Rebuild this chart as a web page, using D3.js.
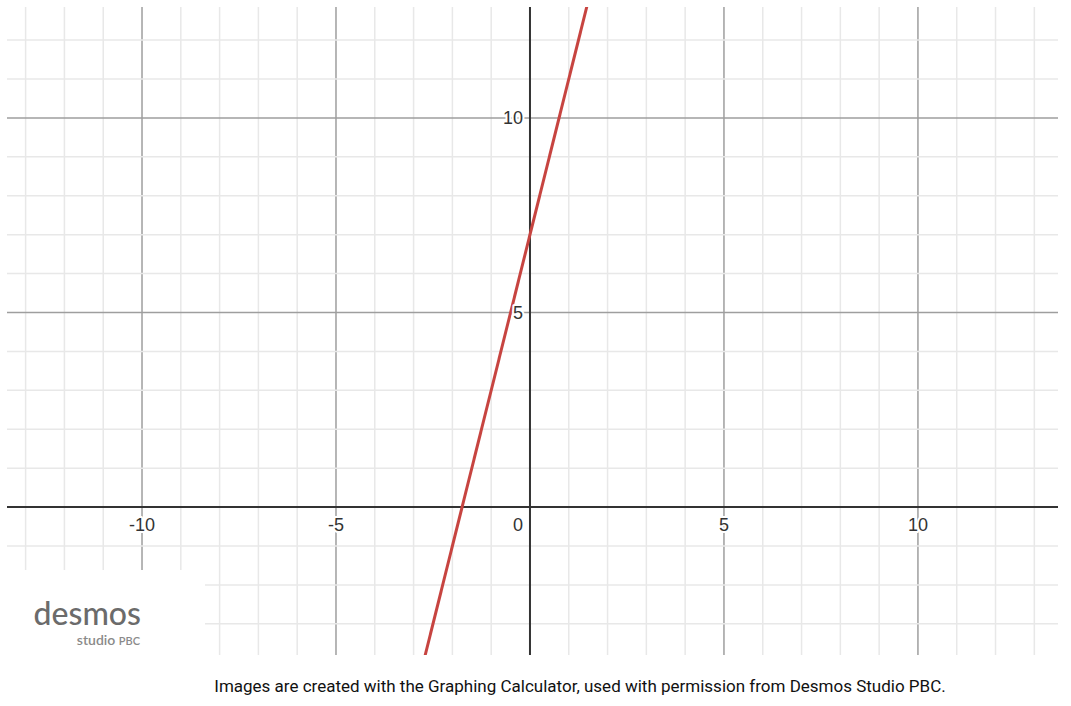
<!DOCTYPE html>
<html>
<head>
<meta charset="utf-8">
<script src="https://cdn.jsdelivr.net/npm/d3@7/dist/d3.min.js"></script>
<style>
  body { margin: 0; background: #fff; }
  svg { display: block; }
</style>
</head>
<body>
<div id="chart"></div>
<script>
// 视野范围（坐标单位）
const xDomain = [-13.48, 13.61];
const yDomain = [-3.8, 12.85];
// 主刻度标签
const xTickLabels = [-10, -5, 0, 5, 10];
const yTickLabels = [5, 10];
// 直线上读到的两点 (y = 4x + 7)，超出部分被裁剪
const linePoints = [[-3, -5], [2, 15]];
const caption = 'Images are created with the Graphing Calculator, used with permission from Desmos Studio PBC.';

const width = 1071, height = 706;
const plot = { left: 7, top: 7, right: 1058, bottom: 655 };

const svg = d3.select('#chart').append('svg')
  .attr('width', width)
  .attr('height', height);

const x = d3.scaleLinear().domain(xDomain).range([plot.left, plot.right]);
const y = d3.scaleLinear().domain(yDomain).range([plot.bottom, plot.top]);

svg.append('defs').append('clipPath')
  .attr('id', 'plot-clip')
  .append('rect')
  .attr('x', plot.left).attr('y', plot.top)
  .attr('width', plot.right - plot.left)
  .attr('height', plot.bottom - plot.top);

const g = svg.append('g').attr('clip-path', 'url(#plot-clip)');

// 网格：每1单位细线，每5单位粗线
const xs = d3.range(Math.ceil(xDomain[0]), Math.floor(xDomain[1]) + 1);
const ys = d3.range(Math.ceil(yDomain[0]), Math.floor(yDomain[1]) + 1);

const minorColor = '#e8e8e8', majorColor = '#9e9e9e';

g.selectAll('.vgrid').data(xs.filter(d => d !== 0)).enter()
  .append('line').attr('class', 'vgrid')
  .attr('x1', d => x(d)).attr('x2', d => x(d))
  .attr('y1', plot.top).attr('y2', plot.bottom)
  .attr('stroke', d => d % 5 === 0 ? majorColor : minorColor)
  .attr('stroke-width', 1.5);

g.selectAll('.hgrid').data(ys.filter(d => d !== 0)).enter()
  .append('line').attr('class', 'hgrid')
  .attr('x1', plot.left).attr('x2', plot.right)
  .attr('y1', d => y(d)).attr('y2', d => y(d))
  .attr('stroke', d => d % 5 === 0 ? majorColor : minorColor)
  .attr('stroke-width', 1.5);

// 坐标轴
g.append('line')
  .attr('x1', plot.left).attr('x2', plot.right)
  .attr('y1', y(0)).attr('y2', y(0))
  .attr('stroke', '#333').attr('stroke-width', 2);
g.append('line')
  .attr('x1', x(0)).attr('x2', x(0))
  .attr('y1', plot.top).attr('y2', plot.bottom)
  .attr('stroke', '#333').attr('stroke-width', 2);

// 函数图像
g.append('path')
  .attr('d', d3.line().x(d => x(d[0])).y(d => y(d[1]))(linePoints))
  .attr('fill', 'none')
  .attr('stroke', '#c74440')
  .attr('stroke-width', 3);

// 刻度标签（白色描边作底）
const labelStyle = sel => sel
  .attr('font-family', 'Arial, "Liberation Sans", sans-serif')
  .attr('font-size', 18)
  .attr('fill', '#333')
  .attr('stroke', '#fff')
  .attr('stroke-width', 4)
  .attr('paint-order', 'stroke')
  .attr('stroke-linejoin', 'round');

svg.selectAll('.xlabel').data(xTickLabels).enter()
  .append('text').attr('class', 'xlabel')
  .attr('x', d => d === 0 ? x(0) - 7 : x(d))
  .attr('y', y(0) + 24)
  .attr('text-anchor', d => d === 0 ? 'end' : 'middle')
  .text(d => d)
  .call(labelStyle);

svg.selectAll('.ylabel').data(yTickLabels).enter()
  .append('text').attr('class', 'ylabel')
  .attr('x', x(0) - 7)
  .attr('y', d => y(d) + 6.5)
  .attr('text-anchor', 'end')
  .text(d => d)
  .call(labelStyle);

// 左下角 logo 区
svg.append('rect')
  .attr('x', 0).attr('y', 570)
  .attr('width', 205).attr('height', plot.bottom - 570 + 1)
  .attr('fill', '#fff');

svg.append('text')
  .attr('x', 141).attr('y', 625)
  .attr('text-anchor', 'end')
  .attr('font-family', 'Lato, "Open Sans", sans-serif')
  .attr('font-size', 32)
  .attr('font-weight', 500)
  .attr('fill', '#6b6b6b')
  .text('desmos');

const sub = svg.append('text')
  .attr('x', 140).attr('y', 645)
  .attr('text-anchor', 'end')
  .attr('font-family', 'Lato, "Open Sans", sans-serif')
  .attr('font-weight', 600)
  .attr('fill', '#8a8a8a');
sub.append('tspan').attr('font-size', 14).text('studio ');
sub.append('tspan').attr('font-size', 11).text('PBC');

// 说明文字
svg.append('text')
  .attr('x', 580).attr('y', 692)
  .attr('text-anchor', 'middle')
  .attr('font-family', 'Roboto, sans-serif')
  .attr('font-size', 17)
  .attr('fill', '#111')
  .text(caption);
</script>
</body>
</html>
